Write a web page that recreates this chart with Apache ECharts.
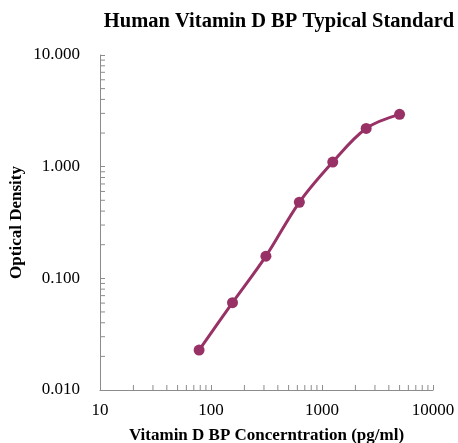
<!DOCTYPE html>
<html>
<head>
<meta charset="utf-8">
<script src="https://cdn.jsdelivr.net/npm/echarts@6/dist/echarts.min.js"></script>
<style>
    html, body { margin: 0; padding: 0; background: #fff; }
    #chart { width: 458px; height: 443px; }
</style>
</head>
<body>
<div id="chart"></div>
<script>
// 标准曲线数据
const concentration = [78.125, 156.25, 312.5, 625, 1250, 2500, 5000];
const opticalDensity = [0.0228, 0.0605, 0.158, 0.48, 1.10, 2.20, 2.94];
// 次刻度位置
const xMinorTicks = [20, 30, 40, 50, 60, 70, 80, 90, 200, 300, 400, 500, 600, 700, 800, 900, 2000, 3000, 4000, 5000, 6000, 7000, 8000, 9000];
const yMinorTicks = [0.02, 0.03, 0.04, 0.05, 0.06, 0.07, 0.08, 0.09, 0.2, 0.3, 0.4, 0.5, 0.6, 0.7, 0.8, 0.9, 2, 3, 4, 5, 6, 7, 8, 9];

(function () {
    const serif = '"Liberation Serif", "DejaVu Serif", serif';
    const lineColor = '#983266';
    const axisGray = '#8c8c8c';
    let myChart = echarts.init(document.getElementById('chart'));

    let option = {
        animation: false,
        title: {
            text: 'Human Vitamin D BP Typical Standard',
            left: 274,
            textAlign: 'center',
            top: 6,
            textStyle: {
                fontFamily: serif,
                fontSize: 20.5,
                fontWeight: 'bold',
                color: '#000'
            }
        },
        grid: {
            left: 100,
            right: 25,
            top: 55,
            bottom: 53,
            outerBoundsMode: 'none',
            containLabel: false
        },
        xAxis: {
            type: 'log',
            logBase: 10,
            min: 10,
            max: 10000,
            name: 'Vitamin D BP Concerntration (pg/ml)',
            nameLocation: 'middle',
            nameGap: 37,
            nameMoveOverlap: false,
            nameTextStyle: {
                fontFamily: serif,
                fontSize: 17,
                fontWeight: 'bold',
                color: '#000'
            },
            axisLine: { lineStyle: { color: axisGray } },
            axisTick: { inside: true, length: 5, lineStyle: { color: axisGray } },
            axisLabel: {
                fontFamily: serif,
                fontSize: 17,
                color: '#000',
                margin: 12,
                formatter: function (v) {
                    return String(Math.round(v));
                }
            },
            splitLine: { show: false }
        },
        yAxis: {
            type: 'log',
            logBase: 10,
            min: 0.01,
            max: 10,
            name: 'Optical Density',
            nameLocation: 'middle',
            nameGap: 75,
            nameMoveOverlap: false,
            nameTextStyle: {
                fontFamily: serif,
                fontSize: 17,
                fontWeight: 'bold',
                color: '#000'
            },
            axisLine: { show: true, lineStyle: { color: axisGray } },
            axisTick: { show: true, inside: true, length: 5, lineStyle: { color: axisGray } },
            axisLabel: {
                fontFamily: serif,
                fontSize: 17,
                color: '#000',
                margin: 20,
                formatter: function (v) {
                    return Number(v).toFixed(3);
                }
            },
            splitLine: { show: false }
        },
        series: [
            {
                name: 'OD',
                type: 'line',
                smooth: 0.35,
                data: concentration.map((c, i) => [c, opticalDensity[i]]),
                symbol: 'circle',
                symbolSize: 11,
                lineStyle: { color: lineColor, width: 3 },
                itemStyle: { color: lineColor },
                z: 5
            },
            {
                // x 轴次刻度
                name: 'xMinor',
                type: 'custom',
                silent: true,
                data: xMinorTicks,
                renderItem: function (params, api) {
                    const p = api.coord([api.value(0), 0.01]);
                    return {
                        type: 'line',
                        shape: { x1: p[0], y1: p[1], x2: p[0], y2: p[1] - 5 },
                        style: { stroke: axisGray, lineWidth: 1 }
                    };
                },
                encode: { x: 0 }
            },
            {
                // y 轴次刻度
                name: 'yMinor',
                type: 'custom',
                silent: true,
                data: yMinorTicks.map(v => [10, v]),
                renderItem: function (params, api) {
                    const p = api.coord([10, api.value(1)]);
                    return {
                        type: 'line',
                        shape: { x1: p[0], y1: p[1], x2: p[0] + 5, y2: p[1] },
                        style: { stroke: axisGray, lineWidth: 1 }
                    };
                },
                encode: { x: 0, y: 1 }
            }
        ]
    };
    myChart.setOption(option);

    window.addEventListener('resize', function () {
        myChart.resize();
    });
})();
</script>
</body>
</html>
